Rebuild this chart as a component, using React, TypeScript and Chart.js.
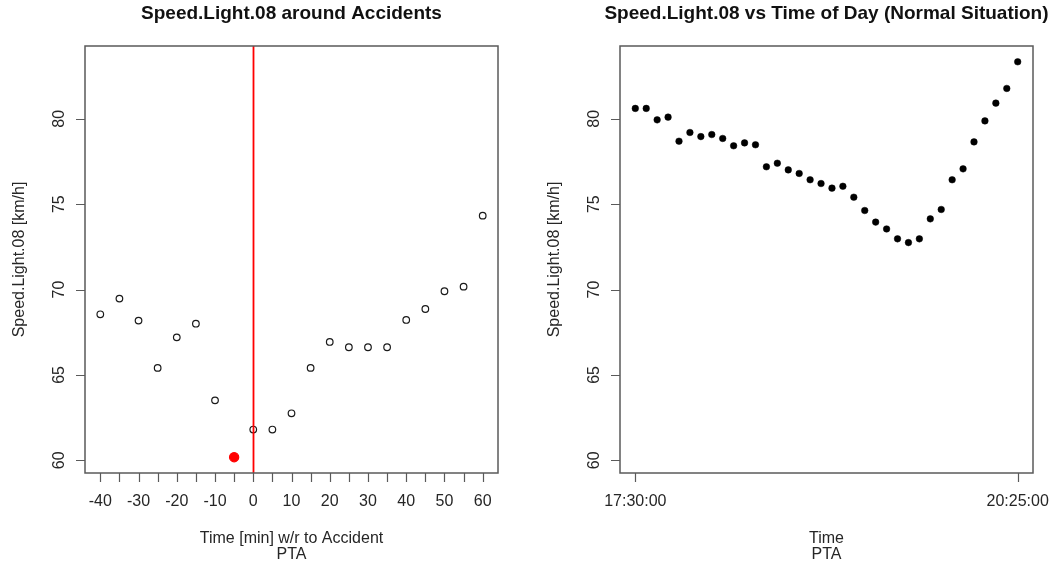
import { useEffect, useRef } from "react";
import { Chart, registerables } from "chart.js";

Chart.register(...registerables);

// Minutes relative to the accident, with the mean light-vehicle speed at each offset
const accidentOffsets = [-40, -35, -30, -25, -20, -15, -10, -5, 0, 5, 10, 15, 20, 25, 30, 35, 40, 45, 50, 55, 60];
const accidentSpeeds = [68.55, 69.47, 68.18, 65.41, 67.2, 68.0, 63.51, 60.18, 61.8, 61.8, 62.75, 65.41, 66.93, 66.62, 66.62, 66.62, 68.22, 68.86, 69.9, 70.17, 74.33];
const accidentMoment = 0;
const highlightOffset = -5;

// Normal-day profile, one reading every five minutes
const timeLabels = [
  "17:30:00", "17:35:00", "17:40:00", "17:45:00", "17:50:00", "17:55:00",
  "18:00:00", "18:05:00", "18:10:00", "18:15:00", "18:20:00", "18:25:00",
  "18:30:00", "18:35:00", "18:40:00", "18:45:00", "18:50:00", "18:55:00",
  "19:00:00", "19:05:00", "19:10:00", "19:15:00", "19:20:00", "19:25:00",
  "19:30:00", "19:35:00", "19:40:00", "19:45:00", "19:50:00", "19:55:00",
  "20:00:00", "20:05:00", "20:10:00", "20:15:00", "20:20:00", "20:25:00",
];
const normalSpeeds = [
  80.61, 80.61, 79.94, 80.1, 78.69, 79.2, 78.96, 79.08, 78.85, 78.42, 78.59, 78.48,
  77.19, 77.4, 77.01, 76.8, 76.43, 76.21, 75.94, 76.05, 75.41, 74.63, 73.95, 73.55,
  72.97, 72.75, 72.97, 74.14, 74.69, 76.43, 77.07, 78.65, 79.88, 80.92, 81.78, 83.34,
];

// Axis ticks
const speedTicks = [60, 65, 70, 75, 80];
const offsetTicks = [-40, -35, -30, -25, -20, -15, -10, -5, 0, 5, 10, 15, 20, 25, 30, 35, 40, 45, 50, 55, 60];
const offsetLabelStep = 10;
const timeTickLabels = ["17:30:00", "20:25:00"];

const W = 530;
const H = 567;
const FONT = "'Liberation Sans', Arial, sans-serif";
const TEXT = "#262626";
const FRAME = "#5a5a5a";

const toMinutes = (t: string) => {
  const [h, m, s] = t.split(":").map(Number);
  return h * 60 + m + s / 60;
};
const sinceStart = (t: string) => toMinutes(t) - toMinutes(timeLabels[0]);

// R-style 4% axis extension
const padRange = (vals: number[]) => {
  const lo = Math.min(...vals);
  const hi = Math.max(...vals);
  const p = (hi - lo) * 0.04;
  return [lo - p, hi + p];
};

const [yMin, yMax] = padRange([...accidentSpeeds, ...normalSpeeds]);

type Decor = {
  title: string;
  xTitle: string[];
  yTitle: string;
  xLabel: (v: number) => string;
  vline?: number;
};

function basePlot(decor: Decor) {
  return {
    id: "basePlot",
    afterDatasetsDraw(chart: any) {
      if (decor.vline === undefined) return;
      const { ctx, chartArea } = chart;
      const x = Math.round(chart.scales.x.getPixelForValue(decor.vline)) + 0.5;
      ctx.save();
      ctx.strokeStyle = "#ff0000";
      ctx.lineWidth = 1.8;
      ctx.beginPath();
      ctx.moveTo(x, chartArea.top);
      ctx.lineTo(x, chartArea.bottom);
      ctx.stroke();
      ctx.restore();
    },
    afterDraw(chart: any) {
      const { ctx, chartArea } = chart;
      const { left, right, top, bottom } = chartArea;
      const xs = chart.scales.x;
      const ys = chart.scales.y;
      const tick = 9;
      ctx.save();

      // box
      ctx.strokeStyle = FRAME;
      ctx.lineWidth = 1.5;
      ctx.strokeRect(left, top, right - left, bottom - top);

      // tick marks
      ctx.lineWidth = 1.2;
      ctx.beginPath();
      xs.ticks.forEach((t: any) => {
        const px = Math.round(xs.getPixelForValue(t.value)) + 0.5;
        ctx.moveTo(px, bottom);
        ctx.lineTo(px, bottom + tick);
      });
      ys.ticks.forEach((t: any) => {
        const py = Math.round(ys.getPixelForValue(t.value)) + 0.5;
        ctx.moveTo(left, py);
        ctx.lineTo(left - tick, py);
      });
      ctx.stroke();

      // x tick labels
      ctx.fillStyle = TEXT;
      ctx.font = `16px ${FONT}`;
      ctx.textAlign = "center";
      ctx.textBaseline = "alphabetic";
      xs.ticks.forEach((t: any) => {
        const s = decor.xLabel(t.value);
        if (s) ctx.fillText(s, xs.getPixelForValue(t.value), 506);
      });

      // y tick labels, parallel to the axis
      ys.ticks.forEach((t: any) => {
        ctx.save();
        ctx.translate(left - 21.5, ys.getPixelForValue(t.value));
        ctx.rotate(-Math.PI / 2);
        ctx.fillText(String(t.value), 0, 0);
        ctx.restore();
      });

      const cx = (left + right) / 2;
      const cy = (top + bottom) / 2;

      // axis titles
      decor.xTitle.forEach((line, i) => ctx.fillText(line, cx, 542.5 + i * 16.5));
      ctx.save();
      ctx.translate(left - 61, cy);
      ctx.rotate(-Math.PI / 2);
      ctx.fillText(decor.yTitle, 0, 0);
      ctx.restore();

      // main title
      ctx.fillStyle = "#111111";
      ctx.font = `bold 19px ${FONT}`;
      ctx.fillText(decor.title, cx, 19);

      ctx.restore();
    },
  };
}

function makeScales(xMin: number, xMax: number, xTicks: number[], yWidth: number) {
  return {
    x: {
      type: "linear" as const,
      min: xMin,
      max: xMax,
      grid: { display: false },
      border: { display: false },
      ticks: { display: false },
      afterBuildTicks: (s: any) => {
        s.ticks = xTicks.map((value) => ({ value }));
      },
      afterFit: (s: any) => {
        s.height = 94;
        s.paddingLeft = 0;
        s.paddingRight = 0;
      },
    },
    y: {
      type: "linear" as const,
      min: yMin,
      max: yMax,
      grid: { display: false },
      border: { display: false },
      ticks: { display: false },
      afterBuildTicks: (s: any) => {
        s.ticks = speedTicks.map((value) => ({ value }));
      },
      afterFit: (s: any) => {
        s.width = yWidth;
      },
    },
  };
}

export default function App() {
  const leftRef = useRef<HTMLCanvasElement>(null);
  const rightRef = useRef<HTMLCanvasElement>(null);

  useEffect(() => {
    const [oMin, oMax] = padRange(accidentOffsets);
    const isHighlight = (i: number) => accidentOffsets[i] === highlightOffset;

    const left = new Chart(leftRef.current!, {
      type: "scatter",
      data: {
        datasets: [
          {
            data: accidentOffsets.map((x, i) => ({ x, y: accidentSpeeds[i] })),
            pointRadius: (c: any) => (isHighlight(c.dataIndex) ? 4.6 : 3.3),
            pointBackgroundColor: (c: any) => (isHighlight(c.dataIndex) ? "#ff0000" : "rgba(0,0,0,0)"),
            pointBorderColor: (c: any) => (isHighlight(c.dataIndex) ? "#ff0000" : "#1a1a1a"),
            pointBorderWidth: 1.2,
          },
        ],
      },
      options: {
        responsive: false,
        animation: false,
        events: [],
        layout: { padding: { top: 46, left: 0, right: 32, bottom: 0 } },
        plugins: { legend: { display: false }, tooltip: { enabled: false }, title: { display: false } },
        scales: makeScales(oMin, oMax, offsetTicks, 85),
      } as any,
      plugins: [
        basePlot({
          title: "Speed.Light.08 around Accidents",
          xTitle: ["Time [min] w/r to Accident", "PTA"],
          yTitle: "Speed.Light.08 [km/h]",
          xLabel: (v) => (v % offsetLabelStep === 0 ? String(v) : ""),
          vline: accidentMoment,
        }),
      ],
    });

    const minutes = timeLabels.map(sinceStart);
    const [tMin, tMax] = padRange(minutes);
    const tickMinutes = timeTickLabels.map(sinceStart);

    const right = new Chart(rightRef.current!, {
      type: "scatter",
      data: {
        datasets: [
          {
            data: minutes.map((x, i) => ({ x, y: normalSpeeds[i] })),
            pointRadius: 3.3,
            pointBackgroundColor: "#000000",
            pointBorderColor: "#000000",
            pointBorderWidth: 0.5,
          },
        ],
      },
      options: {
        responsive: false,
        animation: false,
        events: [],
        layout: { padding: { top: 46, left: 0, right: 27, bottom: 0 } },
        plugins: { legend: { display: false }, tooltip: { enabled: false }, title: { display: false } },
        scales: makeScales(tMin, tMax, tickMinutes, 90),
      } as any,
      plugins: [
        basePlot({
          title: "Speed.Light.08 vs Time of Day (Normal Situation)",
          xTitle: ["Time", "PTA"],
          yTitle: "Speed.Light.08 [km/h]",
          xLabel: (v) => timeTickLabels[tickMinutes.indexOf(v)] ?? "",
        }),
      ],
    });

    return () => {
      left.destroy();
      right.destroy();
    };
  }, []);

  return (
    <div style={{ position: "absolute", left: 0, top: 0, width: 1060, height: H, background: "#fff" }}>
      <canvas ref={leftRef} width={W} height={H} style={{ position: "absolute", left: 0, top: 0 }} />
      <canvas ref={rightRef} width={W} height={H} style={{ position: "absolute", left: W, top: 0 }} />
    </div>
  );
}
